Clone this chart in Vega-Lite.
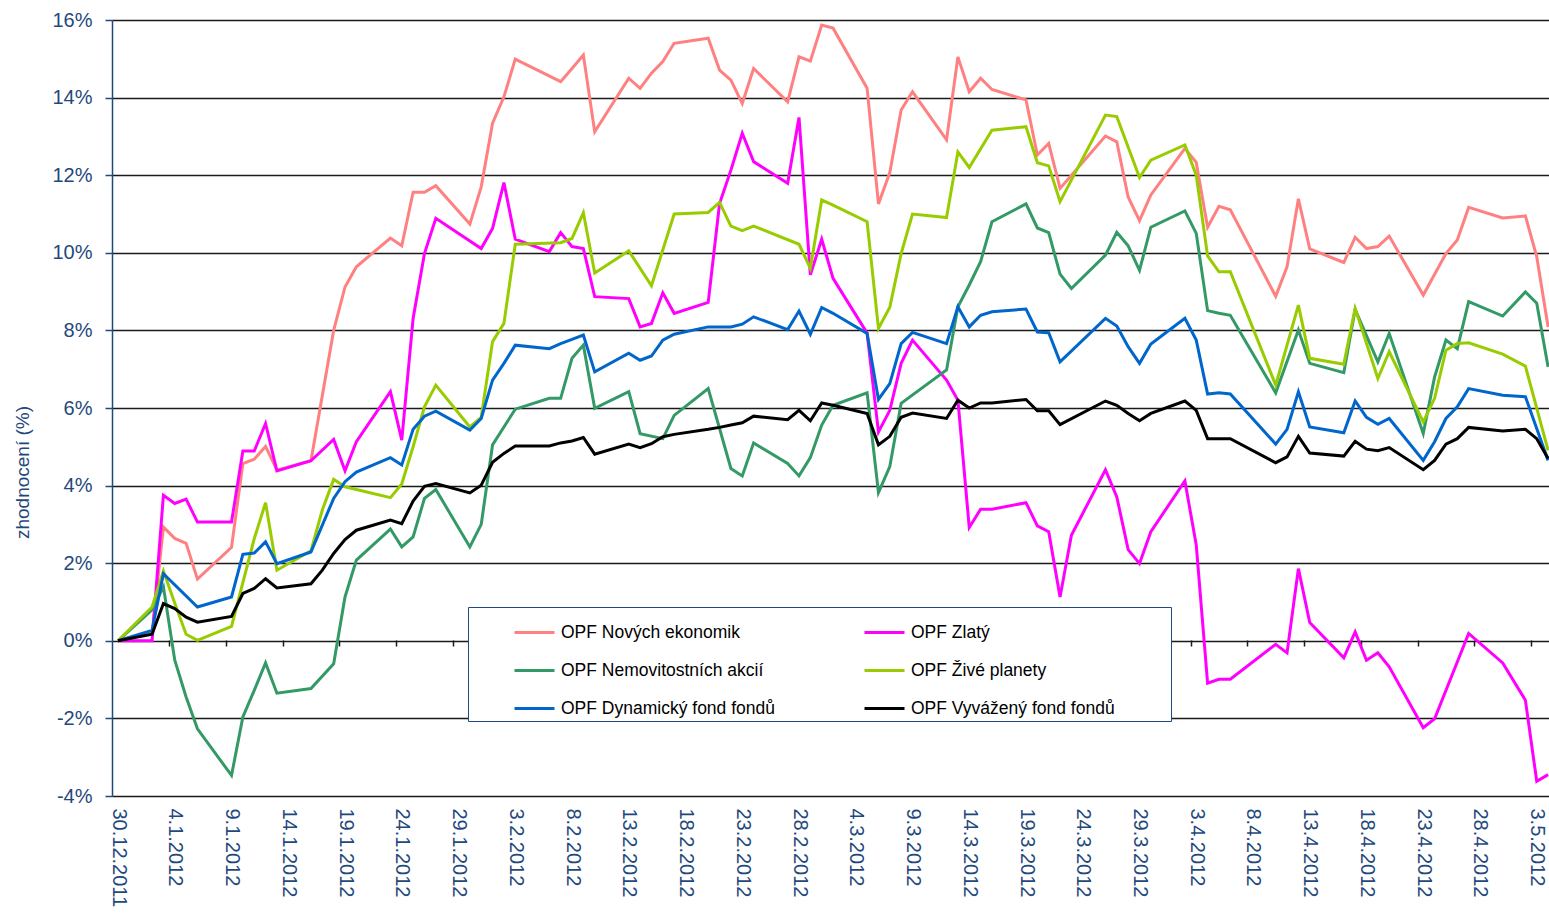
{
  "$schema": "https://vega.github.io/schema/vega-lite/v6.json",
  "width": 1437,
  "height": 776,
  "autosize": {"type": "none"},
  "padding": {"left": 112, "top": 20, "right": 0, "bottom": 119},
  "background": "white",
  "config": {"view": {"stroke": null}, "font": "Liberation Sans"},
  "data": {"values": [
    {"d":"2011-12-30","NE":0,"ZL":0,"NA":0,"ZP":0,"DF":0,"VF":0},
    {"d":"2012-01-02","NE":0.2,"ZL":0,"NA":0.8,"ZP":0.87,"DF":0.27,"VF":0.17},
    {"d":"2012-01-03","NE":2.93,"ZL":3.75,"NA":1.39,"ZP":1.80,"DF":1.73,"VF":0.96},
    {"d":"2012-01-04","NE":2.64,"ZL":3.54,"NA":-0.50,"ZP":0.97,"DF":null,"VF":0.83},
    {"d":"2012-01-05","NE":2.51,"ZL":3.65,"NA":-1.45,"ZP":0.17,"DF":null,"VF":0.61},
    {"d":"2012-01-06","NE":1.59,"ZL":3.06,"NA":-2.27,"ZP":0.01,"DF":0.87,"VF":0.48},
    {"d":"2012-01-09","NE":2.41,"ZL":3.06,"NA":-3.47,"ZP":0.37,"DF":1.13,"VF":0.63},
    {"d":"2012-01-10","NE":4.57,"ZL":4.89,"NA":-1.96,"ZP":null,"DF":2.23,"VF":1.22},
    {"d":"2012-01-11","NE":4.68,"ZL":4.89,"NA":-1.28,"ZP":2.63,"DF":2.26,"VF":1.35},
    {"d":"2012-01-12","NE":5.01,"ZL":5.60,"NA":-0.57,"ZP":3.56,"DF":2.55,"VF":1.60},
    {"d":"2012-01-13","NE":4.40,"ZL":4.38,"NA":-1.35,"ZP":1.82,"DF":1.99,"VF":1.36},
    {"d":"2012-01-16","NE":4.64,"ZL":4.64,"NA":-1.23,"ZP":2.32,"DF":2.29,"VF":1.47},
    {"d":"2012-01-17","NE":null,"ZL":null,"NA":null,"ZP":3.37,"DF":null,"VF":1.82},
    {"d":"2012-01-18","NE":8.0,"ZL":5.19,"NA":-0.59,"ZP":4.16,"DF":3.67,"VF":2.25},
    {"d":"2012-01-19","NE":9.12,"ZL":4.38,"NA":1.13,"ZP":3.97,"DF":4.10,"VF":2.61},
    {"d":"2012-01-20","NE":9.64,"ZL":5.13,"NA":2.08,"ZP":null,"DF":4.35,"VF":2.85},
    {"d":"2012-01-23","NE":10.38,"ZL":6.42,"NA":2.88,"ZP":3.69,"DF":4.72,"VF":3.11},
    {"d":"2012-01-24","NE":10.18,"ZL":5.17,"NA":2.42,"ZP":4.04,"DF":4.53,"VF":3.02},
    {"d":"2012-01-25","NE":11.56,"ZL":8.31,"NA":2.68,"ZP":5.00,"DF":5.45,"VF":3.60},
    {"d":"2012-01-26","NE":11.56,"ZL":9.98,"NA":3.67,"ZP":6.03,"DF":5.79,"VF":3.98},
    {"d":"2012-01-27","NE":11.73,"ZL":10.89,"NA":3.90,"ZP":6.59,"DF":5.92,"VF":4.05},
    {"d":"2012-01-30","NE":10.74,"ZL":null,"NA":2.42,"ZP":5.51,"DF":5.43,"VF":3.81},
    {"d":"2012-01-31","NE":11.70,"ZL":10.11,"NA":3.00,"ZP":5.76,"DF":5.73,"VF":4.01},
    {"d":"2012-02-01","NE":13.34,"ZL":10.63,"NA":5.05,"ZP":7.71,"DF":6.72,"VF":4.60},
    {"d":"2012-02-02","NE":14.02,"ZL":11.81,"NA":5.51,"ZP":8.18,"DF":7.15,"VF":4.83},
    {"d":"2012-02-03","NE":14.99,"ZL":10.35,"NA":5.97,"ZP":10.22,"DF":7.62,"VF":5.02},
    {"d":"2012-02-06","NE":null,"ZL":10.03,"NA":6.25,"ZP":null,"DF":7.53,"VF":5.02},
    {"d":"2012-02-07","NE":14.41,"ZL":10.52,"NA":6.25,"ZP":10.26,"DF":7.66,"VF":5.10},
    {"d":"2012-02-08","NE":14.75,"ZL":10.16,"NA":7.28,"ZP":10.37,"DF":7.77,"VF":5.15},
    {"d":"2012-02-09","NE":15.10,"ZL":10.11,"NA":7.62,"ZP":11.03,"DF":7.88,"VF":5.24},
    {"d":"2012-02-10","NE":13.12,"ZL":8.87,"NA":5.99,"ZP":9.48,"DF":6.93,"VF":4.81},
    {"d":"2012-02-13","NE":14.50,"ZL":8.82,"NA":6.42,"ZP":10.05,"DF":7.41,"VF":5.07},
    {"d":"2012-02-14","NE":14.24,"ZL":8.09,"NA":5.34,"ZP":null,"DF":7.23,"VF":4.98},
    {"d":"2012-02-15","NE":14.63,"ZL":8.18,"NA":null,"ZP":9.15,"DF":7.34,"VF":5.08},
    {"d":"2012-02-16","NE":14.93,"ZL":8.97,"NA":5.21,"ZP":null,"DF":7.75,"VF":5.26},
    {"d":"2012-02-17","NE":15.40,"ZL":8.44,"NA":5.81,"ZP":11.0,"DF":7.90,"VF":5.32},
    {"d":"2012-02-20","NE":15.53,"ZL":8.72,"NA":6.50,"ZP":11.04,"DF":8.09,"VF":5.45},
    {"d":"2012-02-21","NE":14.71,"ZL":11.27,"NA":null,"ZP":11.30,"DF":8.09,"VF":5.50},
    {"d":"2012-02-22","NE":14.45,"ZL":12.13,"NA":4.44,"ZP":10.69,"DF":8.09,"VF":5.56},
    {"d":"2012-02-23","NE":13.85,"ZL":13.08,"NA":4.25,"ZP":10.57,"DF":8.16,"VF":5.62},
    {"d":"2012-02-24","NE":14.75,"ZL":12.35,"NA":5.10,"ZP":10.69,"DF":8.35,"VF":5.79},
    {"d":"2012-02-27","NE":13.89,"ZL":11.79,"NA":4.57,"ZP":null,"DF":8.02,"VF":5.70},
    {"d":"2012-02-28","NE":15.05,"ZL":13.49,"NA":4.25,"ZP":10.22,"DF":8.50,"VF":5.94},
    {"d":"2012-02-29","NE":14.94,"ZL":9.43,"NA":4.72,"ZP":9.60,"DF":7.90,"VF":5.67},
    {"d":"2012-03-01","NE":15.87,"ZL":10.35,"NA":5.56,"ZP":11.36,"DF":8.59,"VF":6.13},
    {"d":"2012-03-02","NE":15.79,"ZL":9.34,"NA":6.07,"ZP":11.23,"DF":8.44,"VF":6.07},
    {"d":"2012-03-05","NE":14.24,"ZL":7.93,"NA":6.39,"ZP":10.80,"DF":7.92,"VF":5.86},
    {"d":"2012-03-06","NE":11.26,"ZL":5.38,"NA":3.82,"ZP":8.05,"DF":6.22,"VF":5.05},
    {"d":"2012-03-07","NE":12.07,"ZL":5.94,"NA":4.49,"ZP":8.60,"DF":6.63,"VF":5.27},
    {"d":"2012-03-08","NE":13.68,"ZL":7.15,"NA":6.12,"ZP":9.98,"DF":7.66,"VF":5.76},
    {"d":"2012-03-09","NE":14.15,"ZL":7.75,"NA":null,"ZP":11.0,"DF":7.95,"VF":5.87},
    {"d":"2012-03-12","NE":12.91,"ZL":6.72,"NA":6.98,"ZP":10.91,"DF":7.66,"VF":5.73},
    {"d":"2012-03-13","NE":15.05,"ZL":6.20,"NA":8.61,"ZP":12.60,"DF":8.61,"VF":6.20},
    {"d":"2012-03-14","NE":14.15,"ZL":2.92,"NA":9.17,"ZP":12.20,"DF":8.09,"VF":6.00},
    {"d":"2012-03-15","NE":14.50,"ZL":3.39,"NA":9.77,"ZP":null,"DF":8.39,"VF":6.13},
    {"d":"2012-03-16","NE":14.21,"ZL":3.39,"NA":10.80,"ZP":13.16,"DF":8.48,"VF":6.13},
    {"d":"2012-03-19","NE":13.94,"ZL":3.56,"NA":11.26,"ZP":13.25,"DF":8.55,"VF":6.22},
    {"d":"2012-03-20","NE":12.52,"ZL":2.96,"NA":10.64,"ZP":12.32,"DF":7.96,"VF":5.93},
    {"d":"2012-03-21","NE":12.82,"ZL":2.81,"NA":10.52,"ZP":12.24,"DF":7.94,"VF":5.93},
    {"d":"2012-03-22","NE":11.66,"ZL":1.13,"NA":9.45,"ZP":11.32,"DF":7.19,"VF":5.57},
    {"d":"2012-03-23","NE":null,"ZL":2.72,"NA":9.08,"ZP":null,"DF":null,"VF":null},
    {"d":"2012-03-26","NE":13.01,"ZL":4.41,"NA":9.94,"ZP":13.55,"DF":8.31,"VF":6.18},
    {"d":"2012-03-27","NE":12.86,"ZL":3.71,"NA":10.53,"ZP":13.51,"DF":8.11,"VF":6.07},
    {"d":"2012-03-28","NE":11.44,"ZL":2.35,"NA":10.18,"ZP":null,"DF":7.58,"VF":5.86},
    {"d":"2012-03-29","NE":10.83,"ZL":1.99,"NA":9.55,"ZP":11.94,"DF":7.15,"VF":5.67},
    {"d":"2012-03-30","NE":11.49,"ZL":2.81,"NA":10.66,"ZP":12.39,"DF":7.65,"VF":5.86},
    {"d":"2012-04-02","NE":12.69,"ZL":4.12,"NA":11.08,"ZP":12.78,"DF":8.31,"VF":6.18},
    {"d":"2012-04-03","NE":12.33,"ZL":2.47,"NA":10.50,"ZP":12.0,"DF":7.75,"VF":5.94},
    {"d":"2012-04-04","NE":10.66,"ZL":-1.09,"NA":8.51,"ZP":9.92,"DF":6.36,"VF":5.21},
    {"d":"2012-04-05","NE":11.20,"ZL":-0.99,"NA":8.44,"ZP":9.51,"DF":6.39,"VF":5.21},
    {"d":"2012-04-06","NE":11.11,"ZL":-0.99,"NA":8.39,"ZP":9.51,"DF":6.36,"VF":5.21},
    {"d":"2012-04-10","NE":8.88,"ZL":-0.09,"NA":6.39,"ZP":6.59,"DF":5.07,"VF":4.59},
    {"d":"2012-04-11","NE":9.64,"ZL":-0.31,"NA":null,"ZP":null,"DF":5.45,"VF":4.74},
    {"d":"2012-04-12","NE":11.39,"ZL":1.86,"NA":8.01,"ZP":8.65,"DF":6.42,"VF":5.27},
    {"d":"2012-04-13","NE":10.10,"ZL":0.47,"NA":7.15,"ZP":7.28,"DF":5.51,"VF":4.84},
    {"d":"2012-04-16","NE":9.75,"ZL":-0.44,"NA":6.91,"ZP":7.13,"DF":5.36,"VF":4.76},
    {"d":"2012-04-17","NE":10.40,"ZL":0.23,"NA":8.54,"ZP":8.57,"DF":6.18,"VF":5.14},
    {"d":"2012-04-18","NE":10.11,"ZL":-0.50,"NA":null,"ZP":null,"DF":5.76,"VF":4.94},
    {"d":"2012-04-19","NE":10.16,"ZL":-0.31,"NA":7.19,"ZP":6.76,"DF":5.58,"VF":4.90},
    {"d":"2012-04-20","NE":10.43,"ZL":-0.67,"NA":7.92,"ZP":7.45,"DF":5.73,"VF":4.98},
    {"d":"2012-04-23","NE":8.91,"ZL":-2.24,"NA":5.34,"ZP":5.64,"DF":4.65,"VF":4.41},
    {"d":"2012-04-24","NE":null,"ZL":-2.01,"NA":6.80,"ZP":6.25,"DF":5.13,"VF":4.65},
    {"d":"2012-04-25","NE":9.98,"ZL":null,"NA":7.75,"ZP":7.49,"DF":5.73,"VF":5.07},
    {"d":"2012-04-26","NE":10.33,"ZL":null,"NA":7.53,"ZP":7.66,"DF":6.03,"VF":5.21},
    {"d":"2012-04-27","NE":11.17,"ZL":0.19,"NA":8.74,"ZP":7.68,"DF":6.50,"VF":5.50},
    {"d":"2012-04-30","NE":10.90,"ZL":-0.57,"NA":8.37,"ZP":7.39,"DF":6.33,"VF":5.41},
    {"d":"2012-05-02","NE":10.95,"ZL":-1.53,"NA":8.99,"ZP":7.08,"DF":6.29,"VF":5.45},
    {"d":"2012-05-03","NE":9.90,"ZL":-3.62,"NA":8.70,"ZP":null,"DF":null,"VF":5.21},
    {"d":"2012-05-04","NE":8.09,"ZL":-3.45,"NA":7.06,"ZP":4.91,"DF":4.65,"VF":4.70}
  ]},
  "transform": [
    {"fold": ["NE", "ZL", "NA", "ZP", "DF", "VF"], "as": ["fond", "v"]},
    {"filter": "isValid(datum.v)"}
  ],
  "layer": [
    {
      "mark": {"type": "line", "strokeWidth": 3},
      "encoding": {
        "x": {
          "field": "d", "type": "temporal",
          "scale": {"type": "utc", "domain": [1325157408000, 1336096512000]},
          "axis": {
            "orient": "bottom",
            "values": [1325203200000,1325635200000,1326067200000,1326499200000,1326931200000,1327363200000,1327795200000,1328227200000,1328659200000,1329091200000,1329523200000,1329955200000,1330387200000,1330819200000,1331251200000,1331683200000,1332115200000,1332547200000,1332979200000,1333411200000,1333843200000,1334275200000,1334707200000,1335139200000,1335571200000,1336003200000],
            "format": "%-d.%-m.%Y",
            "labelAngle": 90,
            "labelFontSize": 20,
            "labelColor": "#1F497D",
            "labelPadding": 12,
            "labelOverlap": false,
            "labelFlush": false,
            "labelBound": false,
            "ticks": false,
            "domain": false,
            "grid": false,
            "title": null
          }
        },
        "y": {
          "field": "v", "type": "quantitative",
          "scale": {"domain": [-4, 16], "nice": false, "zero": false},
          "axis": {
            "values": [-4, -2, 0, 2, 4, 6, 8, 10, 12, 14, 16],
            "labelExpr": "datum.value + '%'",
            "labelFontSize": 20,
            "labelColor": "#1F497D",
            "labelPadding": 13,
            "tickSize": 7,
            "tickColor": "#1F497D",
            "tickWidth": 1.5,
            "domainColor": "#1F497D",
            "domainWidth": 1.5,
            "grid": true,
            "gridColor": "#1a1a1a",
            "gridWidth": 1.5,
            "title": "zhodnocení  (%)",
            "titleFontSize": 19,
            "titleFontWeight": "normal",
            "titleColor": "#1F497D",
            "titleX": -90,
            "titleY": 452,
            "titleAlign": "center",
            "titleBaseline": "middle",
            "titleAngle": -90
          }
        },
        "color": {
          "field": "fond", "type": "nominal",
          "scale": {
            "domain": ["NE", "NA", "DF", "ZL", "ZP", "VF"],
            "range": ["#FF8080", "#339966", "#0066CC", "#FF00FF", "#99CC00", "#000000"]
          },
          "legend": {
            "orient": "none",
            "legendX": 356,
            "legendY": 587,
            "columns": 2,
            "title": "\u00a0",
            "titleOrient": "left",
            "titleFontSize": 1,
            "titlePadding": 41,
            "symbolType": "stroke",
            "symbolSize": 1600,
            "symbolStrokeWidth": 3,
            "labelFontSize": 17.5,
            "labelColor": "#000000",
            "labelOffset": 5,
            "labelLimit": 400,
            "labelExpr": "{'NE':'OPF Nových ekonomik','ZL':'OPF Zlatý\u2800\u2800\u2800\u2800','NA':'OPF Nemovitostních akcií','ZP':'OPF Živé planety\u2800\u2800\u2800\u2800','DF':'OPF Dynamický fond fondů','VF':'OPF Vyvážený fond fondů\u2800\u2800\u2800\u2800'}[datum.label]",
            "columnPadding": 83,
            "rowPadding": 8,
            "padding": 4,
            "fillColor": "white",
            "strokeColor": "#1F497D"
          }
        }
      }
    },
    {
      "mark": {"type": "line", "opacity": 0},
      "encoding": {
        "x": {
          "field": "d", "type": "temporal",
          "axis": {
            "orient": "bottom",
            "offset": -156,
            "values": [1325592000000,1326024000000,1326456000000,1326888000000,1327320000000,1327752000000,1328184000000,1328616000000,1329048000000,1329480000000,1329912000000,1330344000000,1330776000000,1331208000000,1331640000000,1332072000000,1332504000000,1332936000000,1333368000000,1333800000000,1334232000000,1334664000000,1335096000000,1335528000000,1335960000000],
            "labels": false,
            "ticks": true,
            "tickSize": 6,
            "tickColor": "#1a1a1a",
            "tickWidth": 1.5,
            "domain": false,
            "grid": false,
            "title": null
          }
        },
        "y": {"field": "v", "type": "quantitative"},
        "detail": {"field": "fond"}
      }
    }
  ],
  "resolve": {"axis": {"x": "independent"}}
}
